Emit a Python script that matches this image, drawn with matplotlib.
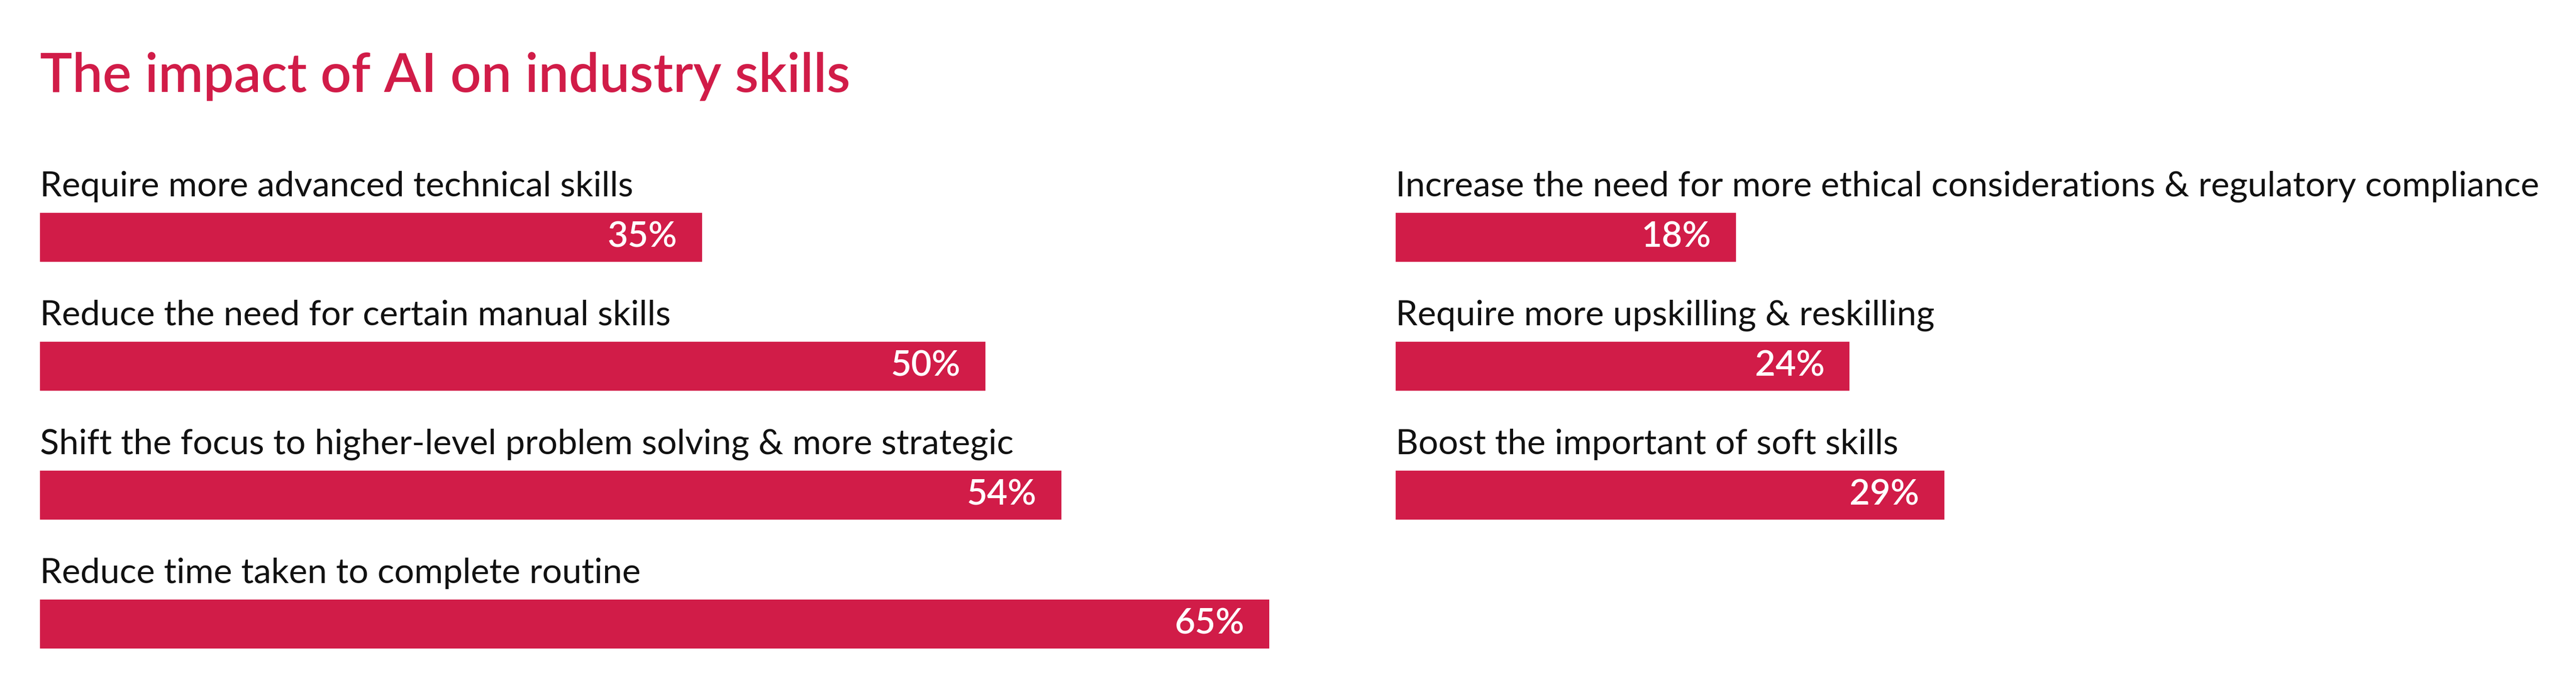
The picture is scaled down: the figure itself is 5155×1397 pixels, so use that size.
import matplotlib
matplotlib.use("Agg")
import matplotlib.pyplot as plt

plt.rcParams['font.family'] = ['Lato', 'DejaVu Sans']

title = "The impact of AI on industry skills"

left_labels = [
    "Require more advanced technical skills",
    "Reduce the need for certain manual skills",
    "Shift the focus to higher-level problem solving & more strategic\nthinking",
    "Reduce time taken to complete routine\ntasks",
]
left_values = [35, 50, 54, 65]

right_labels = [
    "Increase the need for more ethical considerations & regulatory compliance",
    "Require more upskilling & reskilling",
    "Boost the important of soft skills",
]
right_values = [18, 24, 29]

RED = '#D11C48'
INK = '#111111'

W, H = 5155, 1397
DPI = 100
PX_PER_PCT = 37.85
ROW = 258          # row pitch in px
BAR_H = 98 / ROW   # bar height in row units
TOP = 475 - ROW * 1.5
LINE = 86 / ROW    # label line spacing in row units

fig = plt.figure(figsize=(W / DPI, H / DPI), dpi=DPI)
fig.patch.set_facecolor('white')


def column(x0_px, xmax, labels, values):
    ax = fig.add_axes([x0_px / W, 1 - (TOP + ROW * 5) / H,
                       xmax * PX_PER_PCT / W, ROW * 5 / H])
    ax.set_xlim(0, xmax)
    ax.set_ylim(3.5, -1.5)
    ax.axis('off')
    ys = list(range(len(values)))
    ax.barh(ys, values, height=BAR_H, color=RED, zorder=3)
    for y, lab, v in zip(ys, labels, values):
        # wrapped second lines sit behind the bar, like in the source layout
        for k, line in enumerate(lab.split('\n')):
            ax.text(0, y - BAR_H / 2 - 0.128 + k * LINE, line,
                    ha='left', va='baseline', fontsize=50.5, color=INK,
                    zorder=1)
        ax.text(v - 50 / PX_PER_PCT, y, f"{v}%", ha='right', va='center',
                fontsize=51, color='white', fontweight='semibold', zorder=4)
    return ax


column(80, 70, left_labels, left_values)
column(2793, 60, right_labels, right_values)

fig.text(80 / W, 1 - 184 / H, title, ha='left', va='baseline',
         fontsize=78, color=RED, fontweight='semibold')

fig.savefig('out.png', dpi=DPI, facecolor='white')
